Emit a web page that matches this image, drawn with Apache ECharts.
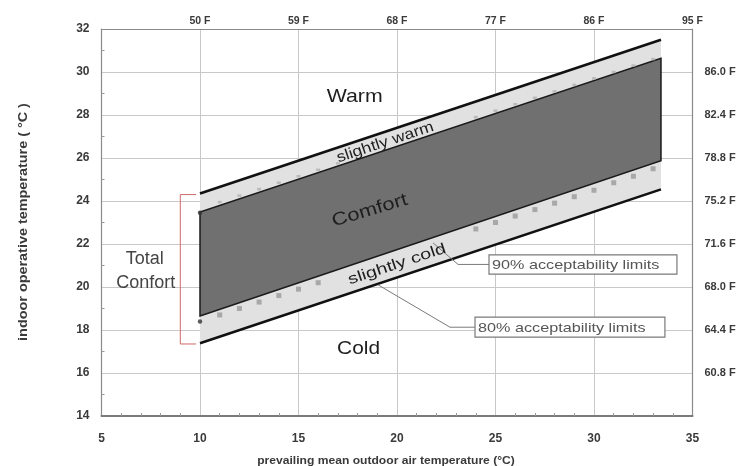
<!DOCTYPE html>
<html><head><meta charset="utf-8">
<script src="https://cdn.jsdelivr.net/npm/echarts@6/dist/echarts.min.js"></script>
<style>html,body{margin:0;padding:0;background:#fff}#c{width:741px;height:466px}</style>
</head><body><div id="c"></div>
<script>
// ---- data ----
const bandX   = [10, 33.4];          // x extent of the comfort bands (°C outdoor)
const upper80 = [24.35, 31.5];       // upper 80% acceptability limit
const upper90 = [23.49, 30.64];      // upper 90% acceptability limit
const lower90 = [18.65, 25.87];      // lower 90% acceptability limit
const lower80 = [17.38, 24.54];      // lower 80% acceptability limit

const lowerMarkX = [11, 12, 13, 14, 15, 16, 24, 25, 26, 27, 28, 29, 30, 31, 32, 33];
const lowerMarkY = [18.7, 19.0, 19.3, 19.6, 19.9, 20.2, 22.7, 23.0, 23.3, 23.6, 23.9, 24.2, 24.5, 24.85, 25.15, 25.5];
const upperMarkX = [11, 12, 13, 14, 15, 16, 17, 24, 25, 26, 27, 28, 29, 30, 31, 32, 33];
const upperMarkY = [23.95, 24.25, 24.55, 24.85, 25.15, 25.45, 25.75, 27.9, 28.2, 28.5, 28.8, 29.1, 29.4, 29.7, 30.0, 30.3, 30.6];
const cornerDotX = [10, 10];
const cornerDotY = [18.4, 23.45];

const bottomTickLabels = ['5', '10', '15', '20', '25', '30', '35'];
const topTickLabels = ['', '50 F', '59 F', '68 F', '77 F', '86 F', '95 F'];
const leftTickLabels = ['14', '16', '18', '20', '22', '24', '26', '28', '30', '32'];
const rightTickLabels = ['', '60.8 F', '64.4 F', '68.0 F', '71.6 F', '75.2 F', '78.8 F', '82.4 F', '86.0 F', ''];

const bracketX = [9.0, 9.8];
const bracketY = [24.3, 17.35];

const xTitle = 'prevailing mean outdoor air temperature (°C)';
const yTitle = 'indoor operative temperature ( °C )';

// ---- chart ----
const FONT = '"Liberation Sans", Arial, sans-serif';
const chart = echarts.init(document.getElementById('c'), null, {renderer: 'canvas'});

const zip = (xs, ys) => xs.map((x, i) => [x, ys[i]]);
const tickColor = '#3a3a3a';

const option = {
  animation: false,
  backgroundColor: '#fff',
  grid: {left: 101.5, right: 48.5, top: 29, bottom: 50, containLabel: false},
  xAxis: [{
    type: 'value', min: 5, max: 35, interval: 5, position: 'bottom',
    axisLine: {show: true, onZero: false, lineStyle: {color: '#7a7a7a', width: 2}},
    axisTick: {show: false, inside: true},
    minorTick: {show: true, splitNumber: 5, length: 3, lineStyle: {color: '#999'}},
    splitLine: {show: true, lineStyle: {color: '#c8c8c8', width: 1}},
    axisLabel: {margin: 17, fontSize: 12, fontWeight: 'bold', color: tickColor, fontFamily: FONT,
      formatter: (v) => bottomTickLabels[Math.round((v - 5) / 5)]}
  }, {
    type: 'value', min: 5, max: 35, interval: 5, position: 'top',
    axisLine: {show: true, onZero: false, lineStyle: {color: '#8a8a8a', width: 1.2}},
    axisTick: {show: false},
    splitLine: {show: false},
    axisLabel: {margin: 2, fontSize: 10.5, fontWeight: 'bold', color: tickColor, fontFamily: FONT,
      formatter: (v) => topTickLabels[Math.round((v - 5) / 5)]}
  }],
  yAxis: [{
    type: 'value', min: 14, max: 32, interval: 2, position: 'left',
    axisLine: {show: true, onZero: false, lineStyle: {color: '#8a8a8a', width: 1.2}},
    axisTick: {show: false, inside: true},
    minorTick: {show: true, splitNumber: 2, length: 3, lineStyle: {color: '#999'}},
    splitLine: {show: true, lineStyle: {color: '#c8c8c8', width: 1}},
    axisLabel: {margin: 12, fontSize: 12, fontWeight: 'bold', color: tickColor, fontFamily: FONT,
      formatter: (v) => leftTickLabels[Math.round((v - 14) / 2)]}
  }, {
    type: 'value', min: 14, max: 32, interval: 2, position: 'right',
    axisLine: {show: true, onZero: false, lineStyle: {color: '#8a8a8a', width: 1.2}},
    axisTick: {show: false},
    splitLine: {show: false},
    axisLabel: {margin: 12, fontSize: 11, fontWeight: 'bold', color: tickColor, fontFamily: FONT,
      formatter: (v) => rightTickLabels[Math.round((v - 14) / 2)]}
  }],
  series: [
    { // 80% band fill
      type: 'custom', z: 2, silent: true, clip: false,
      data: [[bandX[0], lower80[0]]],
      renderItem: (params, api) => {
        const pts = [[bandX[0], lower80[0]], [bandX[1], lower80[1]], [bandX[1], upper80[1]], [bandX[0], upper80[0]]]
          .map(p => api.coord(p));
        return {type: 'polygon', shape: {points: pts}, style: {fill: '#e1e1e1', stroke: null}};
      }
    },
    { // 90% band fill
      type: 'custom', z: 3, silent: true, clip: false,
      data: [[bandX[0], lower90[0]]],
      renderItem: (params, api) => {
        const pts = [[bandX[0], lower90[0]], [bandX[1], lower90[1]], [bandX[1], upper90[1]], [bandX[0], upper90[0]]]
          .map(p => api.coord(p));
        return {type: 'polygon', shape: {points: pts}, style: {fill: '#707070', stroke: '#1a1a1a', lineWidth: 1.5, lineJoin: 'miter'}};
      }
    },
    {type: 'line', name: 'upper80', data: zip(bandX, upper80), symbol: 'none', z: 5,
      lineStyle: {color: '#111', width: 2.6}},
    {type: 'line', name: 'lower80', data: zip(bandX, lower80), symbol: 'none', z: 5,
      lineStyle: {color: '#111', width: 2.6}},
    {type: 'scatter', data: zip(lowerMarkX, lowerMarkY), symbol: 'rect', symbolSize: [5, 5], z: 4,
      itemStyle: {color: '#9a9a9a'}},
    {type: 'scatter', data: zip(upperMarkX, upperMarkY), symbol: 'rect', symbolSize: [4, 2.5], z: 4,
      itemStyle: {color: '#b0b0b0'}},
    {type: 'scatter', data: zip(cornerDotX, cornerDotY), symbol: 'circle', symbolSize: 4.5, z: 6,
      itemStyle: {color: '#333'}}
  ]
};
chart.setOption(option);

// ---- annotations (placed in data coordinates) ----
const P = (x, y) => chart.convertToPixel({gridIndex: 0}, [x, y]);
const a0 = P(bandX[0], lower80[0]), a1 = P(bandX[1], lower80[1]);
const bandAngle = Math.atan2(a0[1] - a1[1], a1[0] - a0[0]);

function label(text, x, y, size, rot, stretch, color) {
  const p = P(x, y);
  return {type: 'text', x: p[0], y: p[1], rotation: rot, scaleX: stretch || 1, z: 50,
    style: {text: text, fontSize: size, fontFamily: FONT, fill: color || '#1e1e1e',
      align: 'center', verticalAlign: 'middle'}};
}
function poly(points, color, w) {
  return {type: 'polyline', z: 40, shape: {points: points.map(p => P(p[0], p[1]))},
    style: {stroke: color, lineWidth: w, fill: null}};
}
function box(x1, yTop, x2, yBot, text) {
  const p1 = P(x1, yTop), p2 = P(x2, yBot);
  return [
    {type: 'rect', z: 41, shape: {x: p1[0], y: p1[1], width: p2[0] - p1[0], height: p2[1] - p1[1]},
      style: {fill: '#fff', stroke: '#7a7a7a', lineWidth: 1.2}},
    {type: 'text', z: 42, x: p1[0] + 3, y: (p1[1] + p2[1]) / 2 + 1, scaleX: 1.2,
      style: {text: text, fontSize: 13.5, fontFamily: FONT, fill: '#555', align: 'left', verticalAlign: 'middle'}}
  ];
}

const g = [];
g.push(label('Warm', 17.85, 28.84, 19, 0, 1.12));
g.push(label('Cold', 18.05, 17.12, 19, 0, 1.1));
g.push(label('slightly warm', 19.4, 26.72, 15, bandAngle, 1.17));
g.push(label('Comfort', 18.62, 23.55, 18, bandAngle * 0.9, 1.22));
g.push(label('slightly cold', 20.0, 21.05, 15, bandAngle, 1.32));
g.push(label('Total', 7.2, 21.3, 18, 0, 1, '#444'));
g.push(label('Confort', 7.25, 20.2, 18, 0, 1, '#444'));
// red bracket
g.push(poly([[bracketX[1], bracketY[0]], [bracketX[0], bracketY[0]], [bracketX[0], bracketY[1]], [bracketX[1], bracketY[1]]], '#d06a6a', 1));
// callouts
g.push(poly([[21.83, 22.05], [23.1, 21.05], [24.67, 21.05]], '#7a7a7a', 1));
g.push(poly([[19.04, 20.1], [22.69, 18.13], [23.96, 18.13]], '#7a7a7a', 1));
g.push(...box(24.67, 21.49, 34.21, 20.6, '90% acceptability limits'));
g.push(...box(23.96, 18.6, 33.6, 17.67, '80% acceptability limits'));
// axis titles
g.push({type: 'text', x: 386, y: 461, z: 50, scaleX: 1.1,
  style: {text: xTitle, fontSize: 11, fontWeight: 'bold', fontFamily: FONT, fill: '#3a3a3a', align: 'center', verticalAlign: 'middle'}});
g.push({type: 'text', x: 24, y: 222, rotation: Math.PI / 2, scaleX: 1.2, z: 50,
  style: {text: yTitle, fontSize: 12, fontWeight: 'bold', fontFamily: FONT, fill: '#3a3a3a', align: 'center', verticalAlign: 'middle'}});

chart.setOption({graphic: g});
</script>
</body></html>
